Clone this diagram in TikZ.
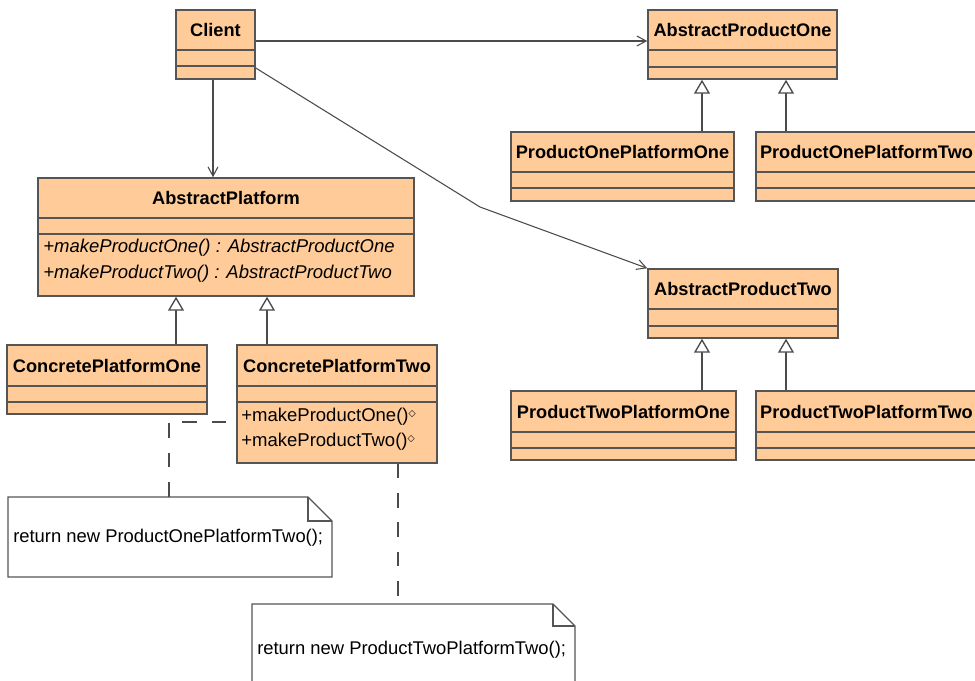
\documentclass[tikz,border=0pt]{standalone}
\usepackage{fontspec}
\setmainfont{Liberation Sans}
\newfontfamily\symfont{DejaVu Sans}
\usetikzlibrary{arrows.meta,fit}
\definecolor{clsfill}{RGB}{255,204,153}
\definecolor{clsline}{RGB}{85,85,85}
\definecolor{linkc}{RGB}{75,75,75}
\tikzset{
  clsbox/.style={draw=clsline, fill=clsfill, line width=1.1pt, inner sep=0pt},
  cmpline/.style={draw=clsline, line width=1.1pt},
  clsname/.style={font=\fontsize{13.65pt}{15pt}\selectfont\bfseries, inner sep=0pt, text=black},
  optext/.style={font=\fontsize{13.9pt}{15pt}\selectfont, inner sep=0pt, anchor=west, text=black},
  notebox/.style={draw=clsline, fill=white, line width=0.9pt, line join=miter},
  notetext/.style={font=\fontsize{13.8pt}{15pt}\selectfont, inner sep=0pt, anchor=west, text=black},
  assoc/.style={draw=linkc, line width=0.8pt, -{Straight Barb[length=7pt,width=7.5pt]}},
  gen/.style={draw=linkc, line width=1pt, -{Triangle[open, fill=white, length=10.5pt, width=12pt]}},
  notelink/.style={draw=linkc, line width=1pt, dash pattern=on 11pt off 11pt},
}
\newcommand\umlcls[8]{%
  \node[clsbox, fit={(#2,#3) (#4,#5)}] (#1) {};
  \draw[cmpline] (#2,#6) -- (#4,#6) (#2,#7) -- (#4,#7);
  \node[clsname] (#1n) at ({(#2+#4)/2},{(#3+#6)/2}) {#8};
}
\newcommand\umlnote[7]{%
  % #1 name, #2 x1, #3 y1, #4 x2, #5 y2, #6 fold, #7 text
  \path[notebox] (#2,#3) -- ({#4-#6},#3) -- (#4,{#3+#6}) -- (#4,#5) -- (#2,#5) -- cycle;
  \draw[notebox, fill=none] ({#4-#6},#3) -- ({#4-#6},{#3+#6}) -- (#4,{#3+#6});
  \node[inner sep=0pt, fit={(#2,#3) (#4,#5)}] (#1) {};
}
\newcommand\dmd{{\symfont\fontsize{7pt}{7pt}\selectfont\raisebox{4pt}{◇}}}
\begin{document}
\begin{tikzpicture}[x=0.75pt, y=-0.75pt]
\useasboundingbox (0,0) rectangle (975,681);
\fill[white] (0,0) rectangle (975,681);

% classes
\umlcls{client}{176}{10}{255}{79}{50}{66}{Client}
\umlcls{apo}{648}{10}{837}{79}{50}{67}{AbstractProductOne}
\umlcls{pop1}{511}{132}{734}{201}{172}{188}{ProductOnePlatformOne}
\umlcls{pop2}{756}{132}{977}{201}{172}{188}{ProductOnePlatformTwo}
\umlcls{apt}{648}{269}{838}{338}{309}{326}{AbstractProductTwo}
\umlcls{ptp1}{511}{391}{736}{460}{432}{448}{ProductTwoPlatformOne}
\umlcls{ptp2}{756}{391}{977}{460}{432}{448}{ProductTwoPlatformTwo}
\umlcls{ap}{38}{178}{414}{296}{218}{234}{AbstractPlatform}
\umlcls{cpone}{7}{345}{207}{414}{386}{402}{ConcretePlatformOne}
\umlcls{cptwo}{237}{345}{437}{463}{386}{402}{ConcretePlatformTwo}

% operations
\node[optext, font=\fontsize{13.9pt}{15pt}\selectfont\itshape] (apm1) at (43,248) {+makeProductOne() : AbstractProductOne};
\node[optext, font=\fontsize{13.9pt}{15pt}\selectfont\itshape] (apm2) at (43,274) {+makeProductTwo() : AbstractProductTwo};
\node[optext] (cpm1) at (241,417) {+makeProductOne()\dmd};
\node[optext] (cpm2) at (241,442) {+makeProductTwo()\dmd};

% notes
\umlnote{noteone}{8}{497}{332}{577}{24}{}
\node[notetext] (noteonet) at (13,538) {return new ProductOnePlatformTwo();};
\umlnote{notetwo}{252}{604}{575}{700}{22}{}
\node[notetext] (notetwot) at (257,650) {return new ProductTwoPlatformTwo();};

% associations
\draw[assoc] (client.east |- 0,41) -- (apo.west |- 0,41);
\draw[assoc] (client.south -| 213,0) -- (ap.north -| 213,0);
\draw[assoc] (client.east |- 0,68) -- (480,207) -- (apt.north west);

% generalizations
\draw[gen] (cpone.north -| 176,0) -- (ap.south -| 176,0);
\draw[gen] (cptwo.north -| 267,0) -- (ap.south -| 267,0);
\draw[gen] (pop1.north -| 702,0) -- (apo.south -| 702,0);
\draw[gen] (pop2.north -| 786,0) -- (apo.south -| 786,0);
\draw[gen] (ptp1.north -| 702,0) -- (apt.south -| 702,0);
\draw[gen] (ptp2.north -| 786,0) -- (apt.south -| 786,0);

% note links
\draw[notelink] (noteone.north -| 169,0) |- (cptwo.west |- 0,422);
\draw[notelink] (cptwo.south -| 398,0) -- (notetwo.north -| 398,0);
\end{tikzpicture}
\end{document}
